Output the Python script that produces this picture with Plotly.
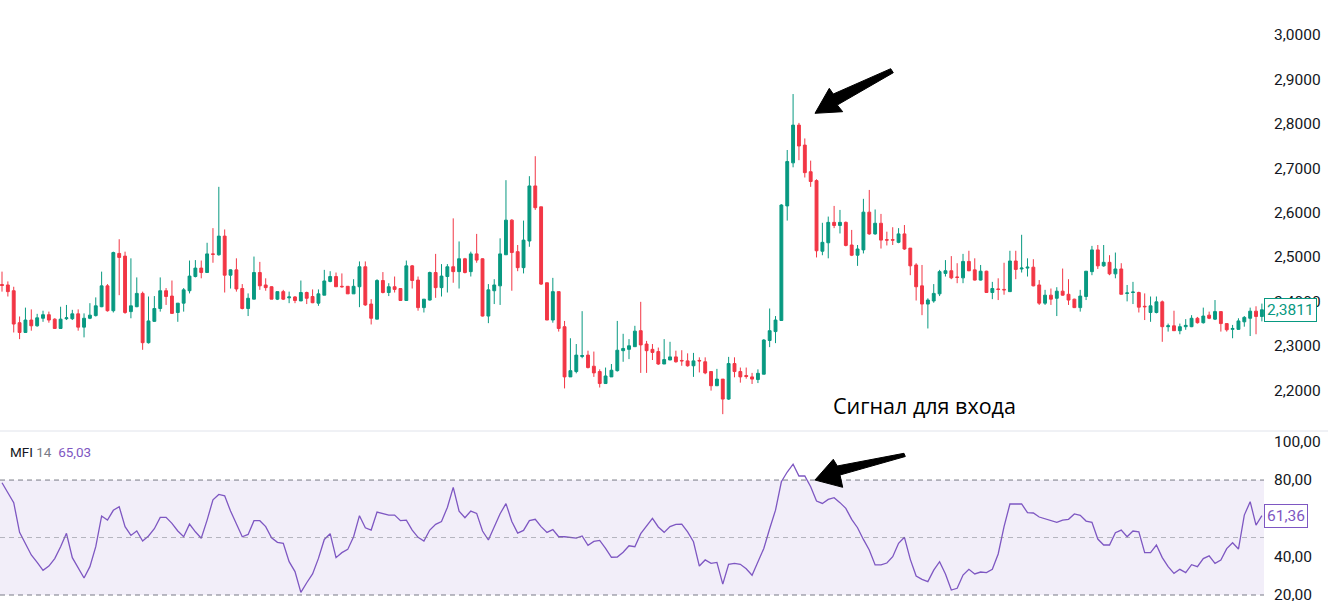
import plotly.graph_objects as go

W, H = 1328, 601

opens = [2.438,2.437,2.424,2.352,2.330,2.358,2.345,2.362,2.370,2.360,2.339,2.361,2.361,2.372,2.342,2.362,2.368,2.388,2.435,2.379,
2.508,2.502,2.377,2.388,2.418,2.307,2.355,2.384,2.424,2.412,2.375,2.396,2.424,2.456,2.475,2.465,2.507,2.505,2.547,2.459,
2.471,2.429,2.384,2.405,2.465,2.437,2.433,2.405,2.422,2.408,2.410,2.401,2.420,2.411,2.396,2.414,2.445,2.456,2.434,2.434,
2.417,2.433,2.478,2.394,2.360,2.447,2.420,2.433,2.429,2.402,2.480,2.448,2.386,2.403,2.465,2.431,2.456,2.478,2.467,2.496,
2.467,2.507,2.496,2.367,2.424,2.435,2.505,2.583,2.512,2.476,2.536,2.660,2.613,2.442,2.358,2.422,2.343,2.230,2.242,2.276,
2.279,2.254,2.242,2.215,2.230,2.244,2.289,2.292,2.298,2.334,2.304,2.292,2.287,2.259,2.268,2.275,2.267,2.266,2.255,2.267,
2.264,2.242,2.210,2.225,2.180,2.260,2.242,2.233,2.230,2.224,2.236,2.312,2.332,2.357,2.615,2.712,2.797,2.752,2.692,2.672,
2.513,2.532,2.578,2.571,2.578,2.527,2.504,2.516,2.601,2.552,2.576,2.539,2.539,2.533,2.552,2.520,2.482,2.435,2.394,2.401,
2.417,2.463,2.469,2.455,2.453,2.490,2.471,2.448,2.468,2.420,2.428,2.427,2.422,2.491,2.473,2.475,2.477,2.437,2.396,2.414,
2.407,2.423,2.416,2.405,2.386,2.411,2.467,2.516,2.480,2.488,2.462,2.473,2.418,2.420,2.420,2.389,2.375,2.375,2.399,2.343,
2.345,2.334,2.343,2.343,2.362,2.352,2.369,2.360,2.377,2.350,2.337,2.337,2.354,2.362,2.378,2.366]
highs = [2.467,2.445,2.433,2.366,2.386,2.382,2.372,2.379,2.377,2.362,2.388,2.392,2.381,2.382,2.373,2.396,2.409,2.467,2.439,2.512,
2.540,2.512,2.497,2.454,2.422,2.411,2.412,2.454,2.430,2.447,2.396,2.430,2.492,2.493,2.492,2.532,2.565,2.658,2.562,2.472,
2.497,2.439,2.418,2.501,2.489,2.452,2.434,2.422,2.426,2.422,2.412,2.447,2.422,2.427,2.427,2.471,2.468,2.465,2.463,2.434,
2.450,2.490,2.490,2.405,2.450,2.466,2.441,2.456,2.429,2.492,2.482,2.456,2.405,2.467,2.507,2.484,2.484,2.587,2.535,2.498,
2.512,2.552,2.497,2.439,2.450,2.542,2.673,2.585,2.527,2.582,2.682,2.727,2.613,2.442,2.453,2.422,2.356,2.317,2.304,2.378,
2.289,2.287,2.247,2.251,2.259,2.356,2.327,2.315,2.345,2.399,2.311,2.304,2.296,2.315,2.309,2.289,2.290,2.283,2.284,2.274,
2.274,2.242,2.248,2.225,2.275,2.274,2.251,2.251,2.239,2.247,2.315,2.384,2.367,2.619,2.741,2.867,2.802,2.767,2.717,2.675,
2.577,2.591,2.615,2.606,2.580,2.561,2.527,2.631,2.651,2.607,2.597,2.557,2.567,2.565,2.572,2.520,2.486,2.482,2.407,2.439,
2.471,2.493,2.502,2.486,2.507,2.514,2.497,2.482,2.469,2.444,2.452,2.487,2.514,2.514,2.550,2.497,2.495,2.448,2.426,2.429,
2.432,2.474,2.450,2.406,2.426,2.468,2.525,2.527,2.527,2.504,2.510,2.486,2.437,2.444,2.422,2.418,2.411,2.411,2.402,2.350,
2.379,2.350,2.360,2.369,2.365,2.386,2.377,2.403,2.377,2.350,2.347,2.362,2.367,2.386,2.389,2.395]
lows = [2.422,2.411,2.330,2.315,2.330,2.334,2.343,2.354,2.352,2.339,2.339,2.358,2.358,2.334,2.319,2.360,2.366,2.387,2.377,2.375,
2.414,2.372,2.362,2.387,2.291,2.305,2.354,2.377,2.392,2.372,2.354,2.377,2.418,2.454,2.452,2.465,2.487,2.503,2.420,2.429,
2.422,2.382,2.367,2.405,2.426,2.424,2.405,2.403,2.403,2.396,2.396,2.401,2.394,2.396,2.390,2.414,2.443,2.433,2.431,2.417,
2.417,2.387,2.390,2.348,2.360,2.418,2.412,2.420,2.402,2.402,2.429,2.379,2.375,2.402,2.408,2.411,2.420,2.442,2.429,2.463,
2.456,2.487,2.366,2.351,2.394,2.392,2.505,2.424,2.468,2.463,2.523,2.606,2.437,2.358,2.352,2.332,2.204,2.230,2.238,2.272,
2.249,2.230,2.206,2.214,2.230,2.242,2.264,2.270,2.298,2.239,2.239,2.268,2.257,2.259,2.268,2.262,2.255,2.253,2.230,2.240,
2.236,2.199,2.210,2.146,2.178,2.229,2.217,2.226,2.214,2.216,2.236,2.297,2.306,2.357,2.582,2.702,2.718,2.679,2.658,2.499,
2.504,2.497,2.565,2.553,2.524,2.502,2.480,2.508,2.550,2.550,2.519,2.526,2.527,2.531,2.516,2.459,2.402,2.369,2.339,2.397,
2.412,2.456,2.450,2.441,2.441,2.468,2.447,2.447,2.419,2.405,2.403,2.415,2.422,2.450,2.465,2.456,2.434,2.392,2.392,2.392,
2.367,2.413,2.392,2.385,2.377,2.403,2.459,2.473,2.478,2.459,2.452,2.416,2.400,2.394,2.375,2.358,2.354,2.373,2.309,2.332,
2.334,2.326,2.336,2.342,2.350,2.350,2.360,2.358,2.332,2.332,2.317,2.336,2.343,2.322,2.326,2.355]
closes = [2.436,2.422,2.349,2.330,2.358,2.345,2.363,2.370,2.358,2.339,2.360,2.363,2.372,2.342,2.362,2.369,2.390,2.435,2.379,2.510,
2.499,2.375,2.390,2.418,2.307,2.356,2.384,2.424,2.411,2.373,2.396,2.426,2.457,2.475,2.465,2.507,2.506,2.547,2.459,2.471,
2.428,2.384,2.407,2.465,2.435,2.431,2.405,2.422,2.405,2.410,2.402,2.420,2.407,2.397,2.417,2.446,2.456,2.433,2.433,2.417,
2.434,2.478,2.392,2.362,2.447,2.420,2.433,2.427,2.402,2.480,2.447,2.386,2.405,2.465,2.431,2.457,2.478,2.467,2.496,2.465,
2.507,2.493,2.367,2.426,2.437,2.507,2.583,2.510,2.476,2.538,2.660,2.611,2.439,2.358,2.422,2.339,2.230,2.244,2.279,2.278,
2.251,2.239,2.215,2.232,2.245,2.290,2.294,2.300,2.333,2.302,2.289,2.285,2.259,2.269,2.275,2.264,2.266,2.255,2.266,2.266,
2.239,2.210,2.225,2.180,2.260,2.242,2.230,2.231,2.225,2.238,2.313,2.334,2.358,2.617,2.715,2.797,2.750,2.690,2.670,2.514,
2.533,2.578,2.571,2.578,2.526,2.504,2.518,2.601,2.552,2.576,2.538,2.538,2.538,2.552,2.518,2.480,2.433,2.394,2.403,2.418,
2.467,2.469,2.453,2.454,2.490,2.469,2.448,2.468,2.420,2.429,2.427,2.426,2.491,2.472,2.475,2.477,2.435,2.396,2.414,2.405,
2.423,2.414,2.403,2.386,2.412,2.468,2.516,2.480,2.488,2.462,2.473,2.416,2.419,2.421,2.387,2.388,2.390,2.399,2.343,2.345,
2.334,2.343,2.346,2.362,2.352,2.367,2.362,2.377,2.350,2.336,2.339,2.356,2.364,2.378,2.366,2.3811]

mfi = [78.6,73.7,68.2,52.7,47.0,40.9,37.0,32.9,35.1,39.0,45.2,52.2,39.5,34.4,28.9,34.8,45.2,61.2,59.1,64.2,
66.1,55.7,51.1,53.4,48.2,50.8,54.6,60.5,60.5,57.4,53.4,50.4,57.0,53.0,49.6,59.1,69.7,72.5,71.8,63.8,
56.9,50.4,51.6,58.8,58.8,55.7,49.9,47.5,47.0,37.4,32.2,21.4,26.4,31.0,39.1,49.0,52.0,39.5,42.1,43.8,
50.4,61.4,55.1,53.9,63.3,62.3,61.7,61.7,58.8,59.1,53.9,50.1,48.2,53.9,56.9,58.3,65.7,76.2,63.8,60.3,
63.8,62.6,53.4,48.7,56.0,62.4,67.7,58.4,52.3,53.7,58.8,59.5,55.7,52.7,54.1,50.4,50.4,49.9,49.7,50.8,
45.9,48.0,48.5,44.3,39.7,39.8,42.3,45.7,45.2,52.0,55.7,60.0,55.5,52.7,55.7,56.9,57.0,52.9,47.8,35.1,
38.3,36.5,37.0,25.7,36.0,36.5,36.0,33.7,30.3,37.4,44.3,54.6,64.3,79.1,84.2,88.3,82.1,82.1,76.5,69.0,
67.8,69.9,70.8,68.2,65.2,59.5,55.1,49.0,43.5,35.7,35.7,36.7,40.0,47.0,50.1,38.6,29.9,28.2,27.0,33.0,
37.4,31.0,22.6,23.5,30.4,33.4,31.0,32.0,31.7,33.4,41.4,55.7,67.5,67.5,67.5,63.0,62.8,60.7,59.7,58.6,
57.9,59.1,59.5,62.3,61.6,58.6,57.9,49.2,46.1,46.1,52.5,53.9,50.4,53.4,53.0,42.1,42.1,46.1,39.5,34.8,
31.3,33.4,31.7,35.8,34.8,39.0,40.4,36.5,38.3,44.2,47.3,44.0,61.7,68.7,56.5,61.4]

price_ticks = [2.2, 2.3, 2.4, 2.5, 2.6, 2.7, 2.8, 2.9, 3.0]
mfi_ticks = [20, 40, 80, 100]
last_price_label = "2,3811"
last_mfi_label = "61,36"
header_mfi = "65,03"
signal_text = "Сигнал для входа"

x = list(range(len(closes)))

UP = "#089981"
DOWN = "#F23645"
PURPLE = "#7E57C2"

plot_right = 1264 / W
split = (601 - 431) / H

fig = go.Figure()
fig.add_trace(go.Candlestick(
    x=x, open=opens, high=highs, low=lows, close=closes,
    increasing=dict(line=dict(color=UP, width=1), fillcolor=UP),
    decreasing=dict(line=dict(color=DOWN, width=1), fillcolor=DOWN),
    whiskerwidth=0, xaxis="x", yaxis="y", showlegend=False, hoverinfo="skip"))
fig.add_trace(go.Scatter(
    x=x, y=mfi, mode="lines", line=dict(color=PURPLE, width=1.3),
    xaxis="x2", yaxis="y2", showlegend=False, hoverinfo="skip"))

xr = [-0.341, 215.36]

def px(xp, yp):
    return xp / W, 1 - yp / H

def poly(points):
    s = ""
    for i, (a, b) in enumerate(points):
        u, v = px(a, b)
        s += ("M" if i == 0 else "L") + f"{u:.5f},{v:.5f}"
    return s + "Z"

arrow1 = [(815, 113.3), (829.3, 88.3), (833.3, 94), (890.7, 68.7), (893.3, 72.7), (837.3, 105), (842.7, 111.7)]
arrow2 = [(815, 480), (833.3, 459.3), (837.3, 466), (904, 453.3), (905.3, 456.5), (840, 475), (842.7, 487.3)]

shapes = [
    dict(type="rect", xref="paper", yref="y2", x0=0, x1=plot_right, y0=20, y1=80,
         fillcolor="rgba(126,87,194,0.1)", line=dict(width=0), layer="below"),
    dict(type="line", xref="paper", yref="y2", x0=0, x1=plot_right, y0=80, y1=80,
         line=dict(color="#787B86", width=1, dash="5px,4px")),
    dict(type="line", xref="paper", yref="y2", x0=0, x1=plot_right, y0=50, y1=50,
         line=dict(color="rgba(120,123,134,0.5)", width=1, dash="5px,4px")),
    dict(type="line", xref="paper", yref="y2", x0=0, x1=plot_right, y0=20, y1=20,
         line=dict(color="#787B86", width=1, dash="5px,4px")),
    dict(type="line", xref="paper", yref="paper", x0=0, x1=1, y0=split, y1=split,
         line=dict(color="#E0E3EB", width=1)),
    dict(type="path", xref="paper", yref="paper", path=poly(arrow1),
         fillcolor="black", line=dict(color="black", width=1)),
    dict(type="path", xref="paper", yref="paper", path=poly(arrow2),
         fillcolor="black", line=dict(color="black", width=1)),
]

annotations = [
    dict(xref="paper", yref="y", x=plot_right, y=closes[-1], text=last_price_label,
         xanchor="left", yanchor="middle", showarrow=False,
         font=dict(family="Roboto", size=15.5, color=UP),
         bgcolor="white", bordercolor=UP, borderwidth=1, borderpad=2),
    dict(xref="paper", yref="y2", x=plot_right, y=mfi[-1], text=last_mfi_label,
         xanchor="left", yanchor="middle", showarrow=False,
         font=dict(family="Roboto", size=15.5, color=PURPLE),
         bgcolor="white", bordercolor=PURPLE, borderwidth=1, borderpad=2),
    dict(xref="paper", yref="paper", x=8 / W, y=1 - 452 / H, xanchor="left", yanchor="middle",
         showarrow=False,
         text=f"MFI <span style='color:#787B86'>14</span>  <span style='color:{PURPLE}'>{header_mfi}</span>",
         font=dict(family="Roboto", size=13.5, color="#131722")),
    dict(xref="paper", yref="paper", x=924 / W, y=1 - 405 / H, xanchor="center", yanchor="middle",
         showarrow=False, text=signal_text,
         font=dict(family="Open Sans", size=21.5, color="#000000")),
]

fig.update_layout(
    width=W, height=H,
    margin=dict(l=0, r=0, t=0, b=0),
    paper_bgcolor="white", plot_bgcolor="white",
    separators=", ",
    showlegend=False,
    xaxis=dict(domain=[0, plot_right], range=xr, visible=False, anchor="y",
               rangeslider=dict(visible=False), fixedrange=True, automargin=False),
    yaxis=dict(domain=[split, 1], range=[2.1081, 3.0788], side="right", anchor="x",
               tickvals=price_ticks, tickformat=".4f", showgrid=False, zeroline=False,
               showline=False, ticks="outside", ticklen=6, tickcolor="rgba(0,0,0,0)",
               ticklabeloverflow="allow", automargin=False,
               tickfont=dict(family="Roboto", size=15.5, color="#131722")),
    xaxis2=dict(domain=[0, plot_right], range=xr, visible=False, anchor="y2", automargin=False),
    yaxis2=dict(domain=[0, split], range=[16.87, 105.6], side="right", anchor="x2",
                tickvals=mfi_ticks, tickformat=".2f", showgrid=False, zeroline=False,
                showline=False, ticks="outside", ticklen=6, tickcolor="rgba(0,0,0,0)",
                ticklabeloverflow="allow", automargin=False,
                tickfont=dict(family="Roboto", size=15.5, color="#131722")),
    shapes=shapes,
    annotations=annotations,
)

fig.write_html("out.html",
               config={"displayModeBar": False},
               post_script="document.body.style.margin='0';document.body.style.padding='0';document.body.style.overflow='hidden';")
